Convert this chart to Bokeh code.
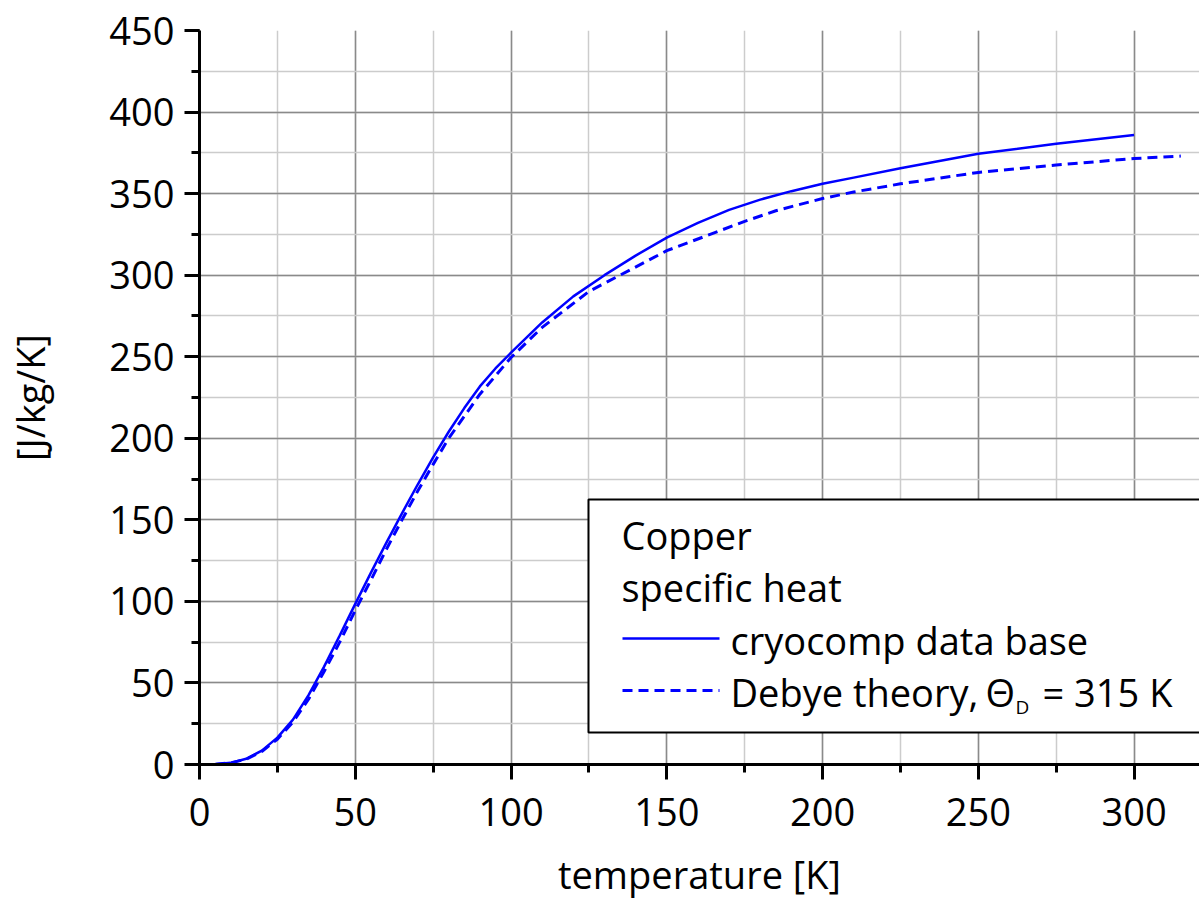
from bokeh.plotting import figure
from bokeh.models import (Range1d, SingleIntervalTicker, BoxAnnotation, Label, Arrow)
from bokeh.embed import file_html
from bokeh.resources import INLINE

# ---- data ----
T_cryo = [0, 5, 10, 15, 20, 25, 30, 35, 40, 45, 50, 55, 60, 65, 70, 75, 80, 85, 90, 95,
          100, 110, 120, 130, 140, 150, 160, 170, 180, 190, 200, 210, 225, 250, 275, 300]
cp_cryo = [0, 0.2, 1.0, 3.5, 8.5, 16.5, 27.5, 42.5, 60, 79, 98.5, 117.5, 136, 154,
           171.5, 188.3, 204, 218.5, 231.8, 242.8, 252.5, 271, 287, 300, 312, 323, 332,
           340, 346.3, 351.5, 356, 359.8, 365.5, 374.5, 380.5, 386]

T_debye = [0, 5, 10, 15, 20, 25, 30, 35, 40, 45, 50, 55, 60, 65, 70, 75, 80, 90, 100,
           110, 125, 150, 175, 185, 200, 210, 225, 250, 275, 300, 315]
cp_debye = [0, 0.1, 1.0, 3.3, 8, 15.5, 26, 40, 57, 75, 94.5, 113, 132, 150, 167.5, 184,
            200, 227, 249.5, 268, 290, 315, 333, 339.5, 347, 351, 356, 363, 367.5,
            371.5, 373]

legend_title = ["Copper", "specific heat"]
series_names = ["cryocomp data base", "Debye theory,", "\u0398", "D", "= 315 K"]
x_label = "temperature [K]"
y_label = "[J/kg/K]"

FONT = "Open Sans"
BLUE = "#0000ff"

p = figure(width=1199, height=902, output_backend="svg", toolbar_location=None,
           x_range=Range1d(0, 321), y_range=Range1d(0, 450),
           min_border_left=199, min_border_right=0, min_border_top=30,
           min_border_bottom=138)
p.outline_line_color = None
p.background_fill_color = "white"
p.border_fill_color = "white"

p.xaxis.ticker = SingleIntervalTicker(interval=50, num_minor_ticks=2)
p.yaxis.ticker = SingleIntervalTicker(interval=50, num_minor_ticks=2)

for ax in (p.xaxis[0], p.yaxis[0]):
    ax.axis_line_width = 3
    ax.axis_line_color = "black"
    ax.major_tick_line_width = 3
    ax.minor_tick_line_width = 3
    ax.major_tick_line_color = "black"
    ax.minor_tick_line_color = "black"
    ax.major_tick_out = 15
    ax.major_tick_in = 0
    ax.minor_tick_out = 8
    ax.minor_tick_in = 0
    ax.major_label_text_font = FONT
    ax.major_label_text_font_size = "38px"
    ax.major_label_text_color = "black"
    ax.axis_label_text_font = FONT
    ax.axis_label_text_font_size = "38px"
    ax.axis_label_text_font_style = "normal"
    ax.axis_label_text_color = "black"

p.xaxis.axis_label = x_label
p.yaxis.axis_label = y_label
p.xaxis.major_label_standoff = 18
p.yaxis.major_label_standoff = 10
p.xaxis.axis_label_standoff = 19
p.yaxis.axis_label_standoff = 50

for g in (p.xgrid[0], p.ygrid[0]):
    g.grid_line_color = "#8a8a8a"
    g.grid_line_width = 1.5
    g.minor_grid_line_color = "#cccccc"
    g.minor_grid_line_width = 1.5

p.line(T_cryo, cp_cryo, line_color=BLUE, line_width=2.5)
p.line(T_debye, cp_debye, line_color=BLUE, line_width=3, line_dash="10 6")

# ---- legend drawn by hand (screen units relative to frame) ----
box = BoxAnnotation(left=389, right=1010, bottom=32, top=265,
                    left_units="screen", right_units="screen",
                    bottom_units="screen", top_units="screen",
                    fill_color="white", fill_alpha=1.0,
                    line_color="black", line_width=2, line_alpha=1.0)
p.add_layout(box)

def lab(x, y, text, size="38px"):
    p.add_layout(Label(x=x, y=y, x_units="screen", y_units="screen", text=text,
                       text_font=FONT, text_font_size=size, text_color="black",
                       text_baseline="alphabetic", text_align="left"))

lab(422, 230, legend_title[0])
lab(422, 178, legend_title[1])
lab(531, 125, series_names[0])
lab(531, 73, series_names[1])
lab(786, 73, series_names[2])
lab(816, 58, series_names[3], size="19px")
lab(843, 73, series_names[4])

p.add_layout(Arrow(end=None, x_start=423, y_start=126, x_end=520, y_end=126,
                   start_units="screen", end_units="screen",
                   line_color=BLUE, line_width=2.5))
p.add_layout(Arrow(end=None, x_start=423, y_start=74, x_end=520, y_end=74,
                   start_units="screen", end_units="screen",
                   line_color=BLUE, line_width=3, line_dash="10 6"))

open("out.html", "w").write(file_html(p, INLINE))
